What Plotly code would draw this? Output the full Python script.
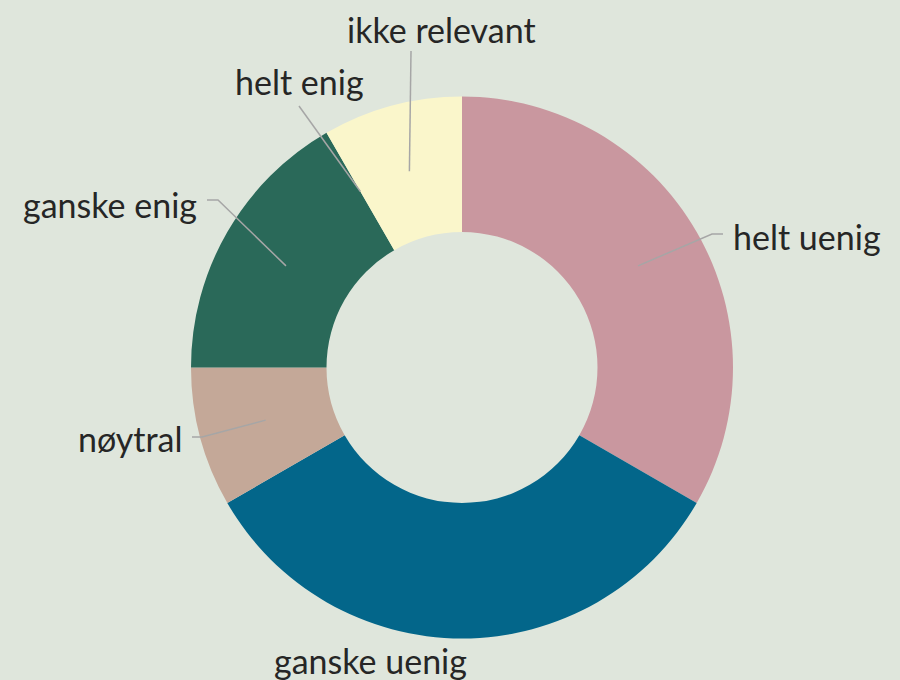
import math
import plotly.graph_objects as go

# ---- data ----
labels = ["helt uenig", "ganske uenig", "nøytral", "ganske enig", "helt enig", "ikke relevant"]
values = [4, 4, 1, 2, 0, 1]
colors = ["#c9979f", "#03668a", "#c4a898", "#2a6959", "#8fb8a0", "#faf6cb"]

# ---- layout constants (pixels) ----
W, H = 900, 680
CX, CY, R = 462, 367.5, 271
HOLE = 0.5
BG = "#dfe6dc"
LINE_COLOR = "#a6a6a6"
TEXT_COLOR = "#262626"
FONT = "Lato, 'Noto Sans', sans-serif"
FSIZE = 34

# label placement: (elbow x, elbow y, end x, end y, text x, text y, xanchor) ; None = no leader
label_layout = {
    "helt uenig": (712, 234, 723, 234, 731, 236, "left"),
    "ganske uenig": None,
    "nøytral": (202, 437, 192, 437, 184, 438, "right"),
    "ganske enig": (218, 200, 207, 200, 199, 204, "right"),
    "helt enig": (299, 106, 299, 106, 299, 81, "center"),
    "ikke relevant": (411, 51, 411, 51, 441, 30, "center"),
}
free_label_pos = {"ganske uenig": (370, 660)}


def px(x):
    return x / W


def py(y):
    return 1 - y / H


fig = go.Figure(
    go.Pie(
        labels=labels,
        values=values,
        marker=dict(colors=colors, line=dict(width=0)),
        hole=HOLE,
        sort=False,
        direction="clockwise",
        rotation=0,
        textinfo="none",
        hoverinfo="label+value",
        domain=dict(x=[px(CX - R), px(CX + R)], y=[py(CY + R), py(CY - R)]),
        showlegend=False,
    )
)

total = sum(values)
cum = 0
shapes = []
annotations = []
for lab, v in zip(labels, values):
    a0 = cum / total * 360
    cum += v
    a1 = cum / total * 360
    mid = math.radians((a0 + a1) / 2)
    sx = CX + 0.75 * R * math.sin(mid)
    sy = CY - 0.75 * R * math.cos(mid)
    lay = label_layout[lab]
    if lay is None:
        tx, ty = free_label_pos[lab]
        anchor = "center"
    else:
        ex, ey, fx, fy, tx, ty, anchor = lay
        path = f"M {px(sx)},{py(sy)} L {px(ex)},{py(ey)} L {px(fx)},{py(fy)}"
        shapes.append(dict(type="path", xref="paper", yref="paper", path=path,
                           line=dict(color=LINE_COLOR, width=1.5)))
    annotations.append(dict(x=px(tx), y=py(ty), xref="paper", yref="paper", text=lab,
                            showarrow=False, xanchor=anchor, yanchor="middle",
                            font=dict(family=FONT, size=FSIZE, color=TEXT_COLOR)))

fig.update_layout(
    width=W, height=H,
    margin=dict(l=0, r=0, t=0, b=0),
    paper_bgcolor=BG, plot_bgcolor=BG,
    shapes=shapes, annotations=annotations,
)

fig.write_html(
    "out.html",
    config={"displayModeBar": False},
    post_script="document.body.style.margin='0';document.body.style.overflow='hidden';",
)
